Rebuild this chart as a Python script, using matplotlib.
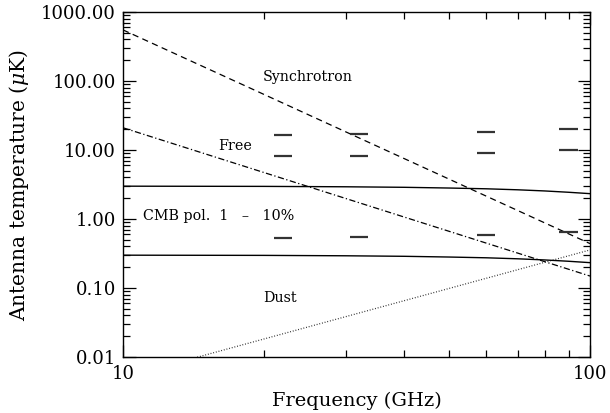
import matplotlib
matplotlib.use("Agg")
import matplotlib.pyplot as plt
from matplotlib.ticker import FixedLocator, FixedFormatter, LogLocator, NullFormatter

plt.rcParams['font.family'] = ['DejaVu Serif']
plt.rcParams['mathtext.fontset'] = 'dejavuserif'

# Foreground spectra (antenna temperature, uK)
synch_freq = [10, 100]
synch_temp = [550, 0.44]
free_freq = [10, 100]
free_temp = [21.0, 0.149]
dust_freq = [10, 100]
dust_temp = [0.00505, 0.356]

# CMB polarization 10% and 1% (antenna temperature)
cmb_freq = [10, 20, 30, 40, 50, 60, 70, 80, 90, 100]
cmb_hi = [2.99, 2.97, 2.93, 2.88, 2.81, 2.74, 2.65, 2.55, 2.44, 2.33]
cmb_lo = [0.299, 0.297, 0.293, 0.288, 0.281, 0.274, 0.265, 0.255, 0.244, 0.233]

# Sensitivity marks at the channel frequencies
chan_freq = [22, 32, 60, 90]
sens_top = [16.3, 17.2, 18.2, 20.2]
sens_mid = [8.1, 8.1, 9.05, 10.1]
sens_low = [0.525, 0.543, 0.58, 0.642]
half_width = 0.045

fig = plt.figure(figsize=(6.10, 4.13), dpi=100)
ax = fig.add_axes([123/610, 1-357/413, (590-123)/610, (357-12)/413])
ax.set_xscale('log')
ax.set_yscale('log')
ax.set_xlim(10, 100)
ax.set_ylim(0.01, 1000)

ax.plot(synch_freq, synch_temp, color='black', lw=0.9, dashes=(5, 3.5))
ax.plot(free_freq, free_temp, color='black', lw=0.9, dashes=(5, 2, 1, 2))
ax.plot(dust_freq, dust_temp, color='#222222', lw=0.9, dashes=(0.7, 1.5))
ax.plot(cmb_freq, cmb_hi, color='black', lw=1.0)
ax.plot(cmb_freq, cmb_lo, color='black', lw=1.0)

for f, a, b, c in zip(chan_freq, sens_top, sens_mid, sens_low):
    for v in (a, b, c):
        ax.plot([f*(1-half_width), f*(1+half_width)], [v, v], color='#333333', lw=1.6,
                solid_capstyle='butt')

labels = [(263, 77, 'Synchrotron'), (218, 146, 'Free'),
          (143, 216, 'CMB pol.  1   \u2013   10%'), (263, 298, 'Dust')]
for x, y, s in labels:
    fig.text(x/610, 1 - y/413, s, fontsize=10.3, va='center', ha='left')

ax.xaxis.set_major_locator(FixedLocator([10, 100]))
ax.xaxis.set_major_formatter(FixedFormatter(['10', '100']))
ax.xaxis.set_minor_locator(LogLocator(base=10, subs=range(2, 10)))
ax.xaxis.set_minor_formatter(NullFormatter())
yt = [0.01, 0.1, 1, 10, 100, 1000]
ax.yaxis.set_major_locator(FixedLocator(yt))
ax.yaxis.set_major_formatter(FixedFormatter(['%.2f' % v for v in yt]))
ax.yaxis.set_minor_locator(LogLocator(base=10, subs=range(2, 10)))
ax.yaxis.set_minor_formatter(NullFormatter())

ax.tick_params(which='both', direction='in', top=True, right=True, width=0.9)
ax.tick_params(which='major', length=9, labelsize=13)
ax.tick_params(axis='x', which='major', pad=6)
ax.tick_params(axis='y', which='major', pad=5)
ax.tick_params(which='minor', length=5)
for s in ax.spines.values():
    s.set_linewidth(1.0)

ax.set_xlabel('Frequency (GHz)', fontsize=14, labelpad=6)
ax.set_ylabel(r'Antenna temperature ($\mu$K)', fontsize=14.6, labelpad=7)

fig.savefig('out.png', dpi=100)
